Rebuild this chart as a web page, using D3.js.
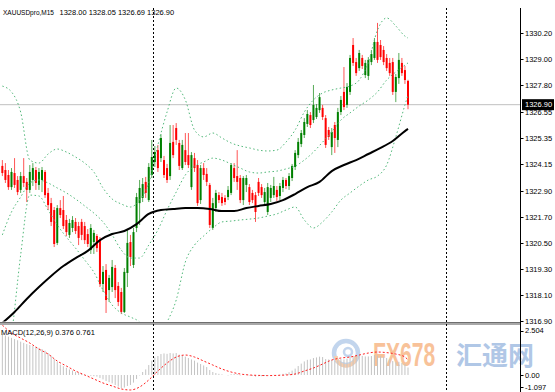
<!DOCTYPE html>
<html><head><meta charset="utf-8">
<script src="https://cdn.jsdelivr.net/npm/d3@7"></script>
<style>html,body{margin:0;padding:0;background:#fff;overflow:hidden}text{font-family:"Liberation Sans",Arial,sans-serif}</style>
</head><body>
<svg id="c" width="555" height="392"></svg>
<script>
// ---- data (XAUUSDpro, M15) ----
const symbolLabel = "XAUUSDpro,M15";
const lastQuote = "1328.00 1328.05 1326.69 1326.90";
const macdLabel = "MACD(12,26,9) 0.376 0.761";
const opens = [1324.07,1323.88,1323.65,1323.09,1323.74,1323.42,1322.96,1323.60,1323.33,1322.96,1323.42,1323.88,1323.19,1323.42,1323.79,1322.82,1322.35,1322.03,1320.51,1322.12,1322.03,1321.57,1320.88,1321.20,1321.48,1321.29,1321.48,1321.29,1320.92,1320.18,1320.55,1320.83,1320.64,1318.61,1319.26,1318.33,1318.47,1319.35,1318.52,1318.24,1317.32,1319.12,1320.55,1319.49,1321.20,1322.35,1322.59,1323.33,1322.49,1323.65,1324.25,1324.80,1324.43,1324.34,1323.97,1323.60,1325.18,1325.82,1325.13,1323.97,1324.80,1324.57,1323.09,1324.43,1324.11,1322.49,1323.97,1323.70,1323.19,1321.20,1322.12,1322.72,1322.63,1322.59,1322.63,1322.82,1323.97,1323.60,1323.51,1322.49,1323.19,1323.09,1322.82,1322.72,1323.33,1323.09,1322.40,1321.94,1322.59,1322.72,1322.96,1322.68,1323.05,1323.42,1323.14,1323.51,1324.02,1324.57,1325.08,1325.50,1326.01,1326.42,1326.19,1326.33,1326.65,1326.75,1326.28,1325.73,1324.94,1325.96,1325.27,1326.56,1327.49,1326.89,1327.49,1329.66,1328.87,1328.59,1329.06,1328.27,1328.23,1328.87,1329.06,1329.80,1329.66,1329.43,1329.06,1328.83,1328.87,1327.49,1328.13,1328.83,1328.50,1328.00];
const highs = [1324.34,1324.20,1323.88,1323.97,1324.43,1323.60,1323.79,1324.43,1323.51,1324.11,1324.20,1324.02,1323.97,1324.02,1323.88,1323.05,1322.59,1322.17,1322.26,1322.49,1322.68,1321.80,1321.62,1321.75,1321.66,1321.48,1321.62,1321.48,1321.15,1321.38,1321.11,1320.92,1320.78,1319.44,1319.53,1319.03,1319.72,1319.49,1318.70,1318.43,1319.35,1321.11,1320.88,1321.20,1322.82,1323.42,1323.51,1323.56,1324.20,1325.27,1324.99,1325.04,1325.54,1324.53,1324.16,1325.96,1325.96,1326.05,1325.27,1325.27,1325.59,1325.59,1324.71,1324.67,1324.34,1324.11,1324.20,1323.97,1323.28,1322.59,1322.96,1322.86,1322.82,1322.72,1323.14,1324.20,1324.20,1324.80,1323.65,1323.60,1323.65,1323.23,1322.96,1322.86,1323.51,1323.23,1323.05,1323.28,1323.19,1323.56,1323.14,1323.28,1323.56,1323.51,1323.74,1324.16,1324.80,1325.36,1325.73,1326.28,1326.65,1326.56,1327.81,1326.93,1327.44,1326.89,1326.42,1325.87,1325.82,1326.10,1326.75,1327.30,1328.64,1327.90,1329.20,1329.98,1329.06,1329.43,1329.20,1328.97,1329.10,1329.43,1329.98,1330.68,1329.89,1329.61,1329.24,1329.06,1329.06,1328.32,1329.29,1329.06,1328.69,1328.05];
const lows = [1323.60,1323.28,1322.96,1322.96,1323.05,1322.72,1322.82,1323.09,1322.40,1322.82,1323.14,1322.96,1322.96,1322.86,1322.59,1322.03,1321.29,1320.32,1320.41,1321.66,1321.15,1320.83,1320.74,1321.01,1320.92,1320.41,1320.64,1320.46,1320.32,1320.00,1320.00,1320.09,1318.47,1318.24,1317.27,1317.78,1318.24,1317.96,1317.59,1317.22,1317.27,1318.47,1319.44,1319.35,1321.01,1321.34,1322.40,1322.59,1322.40,1323.51,1324.02,1323.79,1324.25,1323.51,1323.28,1323.42,1324.43,1325.04,1323.88,1323.88,1324.11,1323.97,1322.96,1323.79,1322.22,1322.31,1323.42,1323.14,1321.20,1321.11,1321.94,1322.35,1322.22,1322.26,1322.49,1322.72,1323.33,1322.96,1322.35,1322.26,1322.86,1322.26,1322.35,1321.48,1322.68,1322.59,1322.22,1321.80,1322.40,1322.59,1322.45,1322.49,1322.86,1323.00,1322.96,1323.37,1323.88,1324.43,1324.94,1325.36,1325.87,1325.82,1326.05,1326.24,1326.52,1326.19,1324.90,1325.27,1324.57,1324.67,1324.94,1326.42,1326.65,1326.75,1327.35,1328.69,1328.23,1328.46,1328.55,1328.13,1328.04,1328.73,1328.97,1328.83,1328.97,1328.73,1328.46,1328.23,1327.35,1327.02,1327.86,1328.23,1327.86,1326.69];
const closes = [1323.74,1323.42,1323.09,1323.79,1323.19,1322.86,1323.60,1323.28,1322.96,1323.79,1323.97,1323.28,1323.79,1323.88,1322.72,1322.26,1321.48,1320.46,1322.12,1321.80,1321.29,1321.01,1321.43,1321.57,1321.06,1320.74,1320.88,1320.64,1320.46,1321.20,1320.97,1320.27,1318.61,1319.17,1317.87,1318.89,1319.40,1318.33,1317.78,1317.32,1319.17,1320.51,1319.86,1321.01,1322.63,1323.05,1323.23,1322.82,1324.02,1324.48,1324.71,1323.97,1325.36,1323.65,1323.42,1325.13,1324.57,1325.27,1324.07,1325.04,1324.25,1324.11,1324.57,1323.97,1322.35,1323.97,1323.65,1323.33,1321.34,1322.35,1322.82,1322.49,1322.35,1322.40,1322.96,1324.11,1323.51,1323.33,1322.49,1323.51,1323.51,1322.40,1322.49,1321.94,1322.82,1322.72,1322.86,1323.09,1323.05,1323.14,1322.63,1323.14,1323.42,1323.14,1323.60,1324.07,1324.67,1325.18,1325.59,1326.10,1326.47,1325.96,1326.89,1326.75,1327.25,1326.33,1325.04,1325.41,1325.64,1325.36,1326.56,1327.12,1326.79,1327.72,1329.06,1328.83,1328.36,1329.29,1328.69,1328.83,1328.97,1329.24,1329.80,1328.97,1329.10,1328.87,1328.59,1328.36,1327.49,1328.18,1328.97,1328.36,1328.04,1326.90];
// moving average (black), read every 4th bar
const maBars = [0,4,8,12,16,20,24,28,32,36,40,44,48,52,56,60,64,68,72,76,80,84,88,92,96,100,104,108,112,116,120,124,128,132,133];
const maValues = [1316.81,1317.32,1317.92,1318.47,1318.98,1319.44,1319.81,1320.14,1320.64,1320.92,1321.06,1321.38,1321.85,1322.03,1322.08,1322.12,1322.12,1322.08,1321.98,1321.98,1322.12,1322.22,1322.31,1322.49,1322.77,1323.09,1323.33,1323.83,1324.11,1324.34,1324.62,1324.90,1325.22,1325.68,1325.78];
// Bollinger bands (green dotted), read every 3rd bar
const bandBars = [0,3,6,9,12,15,18,21,24,27,30,33,36,39,42,45,48,51,54,57,60,63,66,69,72,75,78,81,84,87,90,93,96,99,102,105,108,111,114,117,120,123,126,129,132,133];
const bbUpper = [1327.76,1327.49,1326.56,1324.34,1324.20,1324.62,1324.85,1324.71,1324.48,1324.20,1323.79,1323.05,1322.54,1322.31,1322.17,1322.49,1323.28,1325.04,1326.56,1327.67,1327.12,1325.73,1325.41,1325.59,1325.36,1325.13,1324.99,1324.90,1324.80,1324.76,1324.80,1325.17,1325.73,1326.56,1327.12,1327.44,1327.58,1327.67,1327.76,1328.04,1328.87,1330.35,1330.91,1330.54,1330.07,1329.98];
const bbMiddle = [1320.88,1321.94,1322.63,1323.28,1323.42,1323.28,1323.05,1322.82,1322.54,1322.22,1321.89,1321.48,1320.88,1320.18,1319.81,1319.81,1320.41,1321.11,1322.03,1322.86,1323.65,1324.06,1324.25,1324.43,1324.34,1324.16,1323.97,1323.79,1323.74,1323.79,1323.83,1323.93,1324.06,1324.34,1324.71,1325.17,1325.64,1326.19,1326.52,1326.84,1327.12,1327.49,1328.04,1328.41,1328.73,1328.83];
const bbLower = [1313.99,1316.25,1319.95,1322.72,1322.68,1322.03,1321.34,1320.78,1320.27,1319.72,1319.16,1318.33,1317.64,1317.27,1317.08,1316.85,1316.25,1316.11,1316.85,1317.87,1319.63,1320.41,1320.83,1321.20,1321.48,1321.52,1321.57,1321.61,1321.66,1321.75,1321.85,1322.03,1322.17,1321.57,1321.20,1321.48,1321.94,1322.49,1322.82,1323.14,1323.42,1323.60,1324.11,1325.41,1326.89,1327.35];
// MACD histogram (per bar) and signal (every 3rd bar)
const macdValues = [2.05,1.98,1.92,1.86,1.80,1.74,1.67,1.61,1.55,1.50,1.45,1.41,1.36,1.30,1.22,1.10,0.97,0.80,0.66,0.52,0.44,0.36,0.28,0.22,0.16,0.11,0.06,0.02,-0.02,-0.04,-0.06,-0.08,-0.15,-0.22,-0.30,-0.36,-0.42,-0.50,-0.58,-0.66,-0.63,-0.55,-0.50,-0.38,-0.20,-0.02,0.15,0.28,0.50,0.72,0.88,0.95,1.05,1.08,1.06,1.10,1.08,1.10,1.02,0.98,0.92,0.85,0.78,0.72,0.62,0.55,0.48,0.40,0.25,0.15,0.10,0.06,0.03,0.00,-0.02,0.04,0.05,0.05,-0.02,0.01,0.03,-0.02,-0.04,-0.08,-0.06,-0.06,-0.05,-0.03,-0.02,0.01,-0.01,0.02,0.06,0.08,0.14,0.22,0.32,0.45,0.57,0.68,0.76,0.78,0.85,0.88,0.92,0.90,0.80,0.78,0.76,0.70,0.74,0.80,0.78,0.82,0.92,0.95,0.94,0.98,0.96,0.93,0.93,0.95,1.00,0.97,0.95,0.90,0.85,0.80,0.70,0.64,0.66,0.60,0.55,0.376];
const signalValues = [2.50,2.10,1.85,1.60,1.30,1.05,0.70,0.45,0.20,0.00,-0.20,-0.40,-0.55,-0.70,-0.75,-0.60,-0.25,0.20,0.60,0.90,1.00,0.90,0.70,0.50,0.30,0.15,0.05,0.00,-0.02,-0.03,-0.02,0.00,0.05,0.20,0.35,0.55,0.75,0.85,0.90,1.00,1.10,1.15,1.12,1.05,0.90,0.761];
const priceTicks = [1330.20,1329.00,1327.80,1326.55,1325.35,1324.15,1322.90,1321.70,1320.50,1319.30,1318.10,1316.90];
const macdTicks = [2.504,0.00,-1.097];
const currentPrice = 1326.90;
const separatorBars = [49.5,145.5];
const watermarkLatin = "FX678";
const watermarkCJK = "汇通网";

// ---- drawing ----
const svg = d3.select('#c');
const axisX = 520.5;
const x = d3.scaleLinear().domain([0, 133]).range([2.35, 408]);
const y = d3.scaleLinear().domain([1316.90, 1330.20]).range([321, 33.3]);
const ym = d3.scaleLinear().domain([-1.097, 2.504]).range([396.9, 325]);

const defs = svg.append('defs');
defs.append('clipPath').attr('id','mainClip').append('rect').attr('x',0).attr('y',0).attr('width',axisX).attr('height',321.5);
defs.append('clipPath').attr('id','macdClip').append('rect').attr('x',0).attr('y',325).attr('width',axisX).attr('height',70);

svg.append('rect').attr('width',555).attr('height',392).attr('fill','#fff');

// watermark in MACD pane
const wm = svg.append('g').attr('opacity',0.7);
wm.append('circle').attr('cx',346).attr('cy',353).attr('r',12).attr('fill','none').attr('stroke','#a9c4e6').attr('stroke-width',4.5);
wm.append('path').attr('d','M336,356 A10,10 0 0 0 356,356').attr('fill','none').attr('stroke','#f5b88a').attr('stroke-width',3.5);
wm.append('circle').attr('cx',348).attr('cy',352).attr('r',4).attr('fill','none').attr('stroke','#a9c4e6').attr('stroke-width',2.5);
wm.append('text').attr('transform','translate(373,366) scale(0.64,1)').attr('font-size',33).attr('font-weight','bold')
  .attr('fill','#f6a96e').text(watermarkLatin);
wm.append('text').attr('x',456).attr('y',365).attr('font-size',26).attr('font-weight','bold')
  .style('font-family','"Noto Sans CJK SC",sans-serif').attr('fill','#8fb0dc').text(watermarkCJK);

// main pane
const main = svg.append('g').attr('clip-path','url(#mainClip)');
main.append('line').attr('x1',0).attr('x2',axisX).attr('y1',y(currentPrice)).attr('y2',y(currentPrice))
  .attr('stroke','#c0c0c0').attr('stroke-width',1);

const candles = d3.range(opens.length).map(i => ({i, o:opens[i], h:highs[i], l:lows[i], c:closes[i]}));
const up = d => d.c >= d.o;
main.append('g').selectAll('line').data(candles).join('line')
  .attr('x1',d=>x(d.i)).attr('x2',d=>x(d.i)).attr('y1',d=>y(d.h)).attr('y2',d=>y(d.l))
  .attr('stroke',d=>up(d)?'#2e962e':'#ff2a2a').attr('stroke-opacity',0.8).attr('stroke-width',1);
main.append('g').selectAll('rect').data(candles).join('rect')
  .attr('x',d=>x(d.i)-1).attr('width',2)
  .attr('y',d=>y(Math.max(d.o,d.c))).attr('height',d=>Math.max(1,Math.abs(y(d.o)-y(d.c))))
  .attr('fill',d=>up(d)?'#008000':'#ff0000');

const bandLine = d3.line().x((d,k)=>x(bandBars[k])).y(d=>y(d)).curve(d3.curveMonotoneX);
[bbUpper,bbMiddle,bbLower].forEach(arr=>{
  main.append('path').attr('d',bandLine(arr)).attr('fill','none')
    .attr('stroke','#52b87a').attr('stroke-width',1).attr('stroke-dasharray','1.5,2.5');
});
const maLine = d3.line().x((d,k)=>x(maBars[k])).y(d=>y(d)).curve(d3.curveMonotoneX);
main.append('path').attr('d',maLine(maValues)).attr('fill','none').attr('stroke','#000').attr('stroke-width',2);

// pane separator
svg.append('rect').attr('x',0).attr('y',322).attr('width',axisX).attr('height',3).attr('fill','#a8a8a8');
svg.append('line').attr('x1',0).attr('x2',axisX).attr('y1',322.5).attr('y2',322.5).attr('stroke','#6e6e6e');

// MACD pane
const mp = svg.append('g').attr('clip-path','url(#macdClip)');
mp.append('g').selectAll('rect').data(macdValues).join('rect')
  .attr('x',(d,i)=>x(i)-0.5).attr('width',1)
  .attr('y',d=>Math.min(ym(d),ym(0))).attr('height',d=>Math.abs(ym(d)-ym(0)))
  .attr('fill','#c4c4c4');
const sigLine = d3.line().x((d,k)=>x(bandBars[k])).y(d=>ym(d)).curve(d3.curveMonotoneX);
mp.append('path').attr('d',sigLine(signalValues)).attr('fill','none')
  .attr('stroke','#ff2020').attr('stroke-width',1).attr('stroke-dasharray','2,2');

// period separators
svg.append('g').selectAll('line').data(separatorBars).join('line')
  .attr('x1',d=>Math.round(x(d))+0.5).attr('x2',d=>Math.round(x(d))+0.5).attr('y1',8).attr('y2',392)
  .attr('stroke','#000').attr('stroke-width',1).attr('stroke-dasharray','2,2');

// header texts
svg.append('text').attr('x',3).attr('y',15).attr('font-size',7.5).attr('textLength',51).attr('lengthAdjust','spacingAndGlyphs').attr('fill','#000').text(symbolLabel);
svg.append('text').attr('x',59.5).attr('y',15).attr('font-size',7.5).attr('fill','#000').text(lastQuote);
svg.append('text').attr('x',1).attr('y',335).attr('font-size',7.5).attr('fill','#000').text(macdLabel);

// right axis
svg.append('line').attr('x1',axisX).attr('x2',axisX).attr('y1',8).attr('y2',392).attr('stroke','#000');
const pt = svg.append('g');
pt.selectAll('line').data(priceTicks).join('line')
  .attr('x1',axisX).attr('x2',axisX+3).attr('y1',d=>Math.round(y(d))+0.5).attr('y2',d=>Math.round(y(d))+0.5).attr('stroke','#000');
pt.selectAll('text').data(priceTicks).join('text')
  .attr('x',525).attr('y',d=>y(d)).attr('dy','0.35em').attr('font-size',7.5).attr('fill','#000').text(d=>d.toFixed(2));
const mt = svg.append('g');
const mOff = d => d === d3.max(macdTicks) ? 5.5 : (d === d3.min(macdTicks) ? -10 : 0);
mt.selectAll('line').data(macdTicks).join('line')
  .attr('x1',axisX).attr('x2',axisX+3).attr('y1',d=>Math.round(ym(d)+mOff(d))+0.5).attr('y2',d=>Math.round(ym(d)+mOff(d))+0.5).attr('stroke','#000');
mt.selectAll('text').data(macdTicks).join('text')
  .attr('x',525).attr('y',d=>ym(d)+mOff(d)).attr('dy','0.35em').attr('font-size',7.5).attr('fill','#000')
  .text(d => d === 0 ? '0.00' : String(d));

// current price tag
svg.append('rect').attr('x',axisX+1.5).attr('y',y(currentPrice)-5.5).attr('width',32).attr('height',11).attr('fill','#000');
svg.append('text').attr('x',525).attr('y',y(currentPrice)).attr('dy','0.35em').attr('font-size',7.5).attr('fill','#fff').text(currentPrice.toFixed(2));
</script>
</body></html>
